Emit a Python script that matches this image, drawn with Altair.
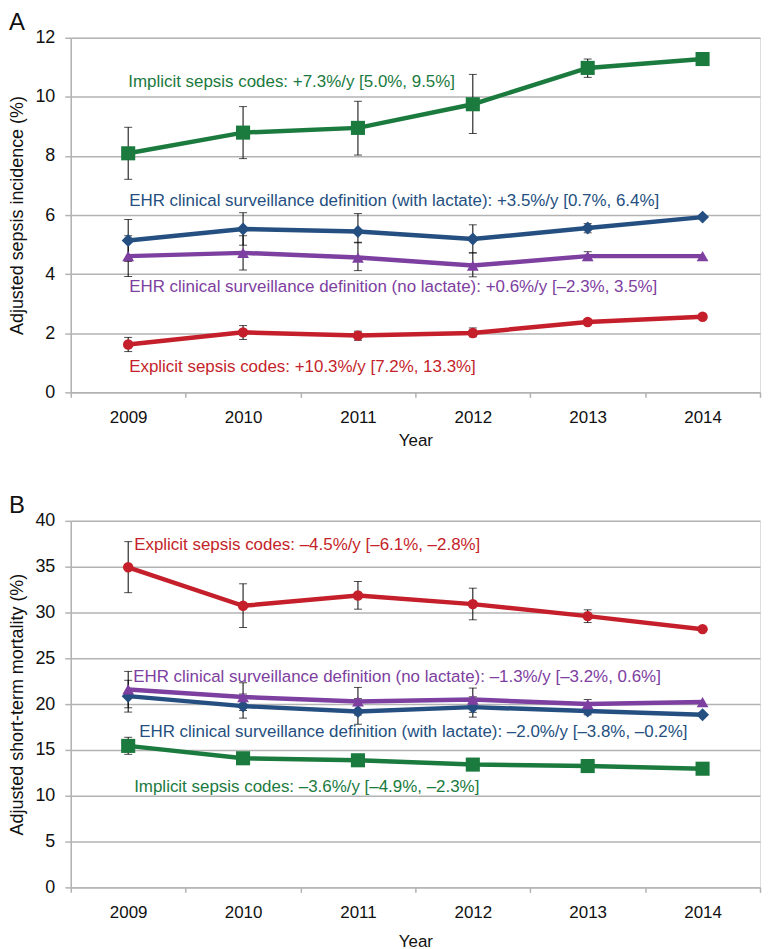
import altair as alt
import pandas as pd

years = ["2009", "2010", "2011", "2012", "2013", "2014"]
series_names = ["Implicit", "EHR with lactate", "EHR no lactate", "Explicit"]
series_colors = ["#1b7a3e", "#244f80", "#7d40a0", "#c41f2a"]
series_shapes = ["square", "diamond", "triangle-up", "circle"]
series_sizes = [200, 110, 190, 280]

# Panel A: adjusted sepsis incidence (%)
a_implicit = [8.09, 8.79, 8.95, 9.75, 10.98, 11.28]
a_implicit_lo = [7.21, 7.91, 8.03, 8.76, 10.66, None]
a_implicit_hi = [8.97, 9.67, 9.85, 10.76, 11.28, None]
a_with = [5.14, 5.53, 5.44, 5.19, 5.56, 5.93]
a_with_lo = [4.43, 4.98, 5.06, 4.72, 5.40, None]
a_with_hi = [5.85, 6.08, 6.05, 5.67, 5.71, None]
a_no = [4.61, 4.72, 4.56, 4.29, 4.61, 4.61]
a_no_lo = [3.92, 4.14, 4.12, 3.91, 4.46, None]
a_no_hi = [5.30, 5.30, 5.08, 4.72, 4.76, None]
a_explicit = [1.62, 2.03, 1.92, 2.01, 2.38, 2.56]
a_explicit_lo = [1.38, 1.79, 1.76, 1.88, 2.31, None]
a_explicit_hi = [1.86, 2.26, 2.07, 2.18, 2.45, None]

# Panel B: adjusted short-term mortality (%)
b_implicit = [15.44, 14.09, 13.87, 13.40, 13.24, 12.95]
b_implicit_lo = [14.52, 13.47, 13.33, 12.90, None, None]
b_implicit_hi = [16.38, 14.64, 14.35, 13.87, None, None]
b_with = [20.87, 19.78, 19.20, 19.67, 19.24, 18.83]
b_with_lo = [19.13, 18.47, 17.80, 18.58, 18.83, None]
b_with_hi = [22.60, 21.10, 20.60, 20.80, 19.60, None]
b_no = [21.60, 20.77, 20.29, 20.50, 20.00, 20.22]
b_no_lo = [19.60, 19.30, 18.80, 19.10, 19.50, None]
b_no_hi = [23.57, 22.33, 21.82, 21.75, 20.50, None]
b_explicit = [34.93, 30.73, 31.85, 30.91, 29.60, 28.18]
b_explicit_lo = [32.16, 28.36, 30.36, 29.20, 28.90, None]
b_explicit_hi = [37.73, 33.13, 33.38, 32.65, 30.29, None]

a_ann_text = [
    "Implicit sepsis codes: +7.3%/y [5.0%, 9.5%]",
    "EHR clinical surveillance definition (with lactate): +3.5%/y  [0.7%, 6.4%]",
    "EHR clinical surveillance definition (no lactate): +0.6%/y [\u20132.3%, 3.5%]",
    "Explicit sepsis codes: +10.3%/y [7.2%, 13.3%]",
]
a_ann_y = [10.5, 6.47, 3.56, 0.85]
a_ann_dx = [0, 1, 1, 1]

b_ann_text = [
    "Implicit sepsis codes: \u20133.6%/y [\u20134.9%, \u20132.3%]",
    "EHR clinical surveillance definition (with lactate): \u20132.0%/y [\u20133.8%, \u20130.2%]",
    "EHR clinical surveillance definition (no lactate): \u20131.3%/y [\u20133.2%, 0.6%]",
    "Explicit sepsis codes: \u20134.5%/y [\u20136.1%, \u20132.8%]",
]
b_ann_y = [11.0, 16.9, 22.95, 37.4]
b_ann_dx = [6, 11, 5, 6]


def long_df(vals, los, his):
    rows = []
    for s, v, lo, hi in zip(series_names, vals, los, his):
        for i, y in enumerate(years):
            rows.append({"series": s, "year": y, "value": v[i],
                         "lo": lo[i], "hi": hi[i]})
    return pd.DataFrame(rows)


df_a = long_df([a_implicit, a_with, a_no, a_explicit],
               [a_implicit_lo, a_with_lo, a_no_lo, a_explicit_lo],
               [a_implicit_hi, a_with_hi, a_no_hi, a_explicit_hi])
df_b = long_df([b_implicit, b_with, b_no, b_explicit],
               [b_implicit_lo, b_with_lo, b_no_lo, b_explicit_lo],
               [b_implicit_hi, b_with_hi, b_no_hi, b_explicit_hi])

color_scale = alt.Scale(domain=series_names, range=series_colors)
shape_scale = alt.Scale(domain=series_names, range=series_shapes)
size_scale = alt.Scale(domain=series_names, range=series_sizes)

GRID = "#b3b3b3"
FONT = "Liberation Sans"
ANN_FONT = "Liberation Sans Narrow, Liberation Sans"


def panel(df, ann_text, ann_y, ann_dx, ymax, ystep, ytitle, letter,
          height, year_title_pad):
    xenc = alt.X(
        "year:N", sort=years, bandPosition=0.5,
        scale=alt.Scale(type="band", domain=years, paddingInner=0, paddingOuter=0),
        axis=alt.Axis(title="Year", labelAngle=0, tickBand="extent", grid=False,
                      domainColor=GRID, domainWidth=1.5, tickColor=GRID, tickWidth=1.5,
                      tickSize=5, labelPadding=12, labelFontSize=17, labelFont=FONT,
                      labelColor="#111111", titleFont=FONT, titleFontSize=17,
                      titleFontWeight="normal", titleColor="#111111",
                      titlePadding=year_title_pad),
    )
    yscale = alt.Scale(domain=[0, ymax], nice=False, zero=True)
    yaxis = alt.Axis(title=ytitle, values=list(range(0, ymax + 1, ystep)),
                     grid=True, gridColor=GRID, gridWidth=1.5, domainColor=GRID,
                     domainWidth=1.5, tickColor=GRID, tickWidth=1.5, tickSize=6,
                     labelPadding=10, labelFontSize=18, labelFont=FONT,
                     labelColor="#111111", titleFont=FONT, titleFontSize=18,
                     titleFontWeight="normal", titleColor="#111111", titlePadding=8)

    base = alt.Chart(df)
    err = base.transform_filter("isValid(datum.lo)")
    rule = err.mark_rule(color="#000000", strokeWidth=1).encode(
        x=xenc, y=alt.Y("lo:Q", scale=yscale, axis=yaxis), y2="hi:Q")
    cap_lo = err.mark_tick(color="#000000", thickness=1, size=8, orient="horizontal").encode(
        x=xenc, y=alt.Y("lo:Q", scale=yscale))
    cap_hi = err.mark_tick(color="#000000", thickness=1, size=8, orient="horizontal").encode(
        x=xenc, y=alt.Y("hi:Q", scale=yscale))
    line = base.mark_line(strokeWidth=4.5).encode(
        x=xenc, y=alt.Y("value:Q", scale=yscale, axis=yaxis),
        color=alt.Color("series:N", scale=color_scale, legend=None),
        detail="series:N")
    pts = base.mark_point(filled=True, opacity=1).encode(
        x=xenc, y=alt.Y("value:Q", scale=yscale),
        color=alt.Color("series:N", scale=color_scale, legend=None),
        shape=alt.Shape("series:N", scale=shape_scale, legend=None),
        size=alt.Size("series:N", scale=size_scale, legend=None))

    layers = [line, rule, cap_lo, cap_hi, pts]
    for s, t, yv, dx in zip(series_names, ann_text, ann_y, ann_dx):
        adf = pd.DataFrame([{"year": years[0], "y": yv, "text": t, "series": s}])
        layers.append(
            alt.Chart(adf).mark_text(align="left", baseline="middle", font=ANN_FONT,
                                     fontSize=17, dx=dx).encode(
                x=xenc, y=alt.Y("y:Q", scale=yscale), text="text:N",
                color=alt.Color("series:N", scale=color_scale, legend=None)))

    return alt.layer(*layers).properties(
        width=692, height=height,
        title=alt.TitleParams(letter, anchor="start", fontSize=24, font=FONT,
                              fontWeight="normal", color="#111111", offset=-6,
                              frame="bounds"),
    )


chart_a = panel(df_a, a_ann_text, a_ann_y, a_ann_dx, 12, 2,
                "Adjusted sepsis incidence (%)", "A", 356, 7)
chart_b = panel(df_b, b_ann_text, b_ann_y, b_ann_dx, 40, 5,
                "Adjusted short-term mortality (%)", "B", 368, 13)

chart = alt.vconcat(chart_a, chart_b, spacing=44).properties(
    padding={"left": 0, "top": 0, "right": 0, "bottom": 0}
).configure_view(stroke=None).configure(background="white")

chart.save("out.html", embed_options={"renderer": "svg", "actions": False})
